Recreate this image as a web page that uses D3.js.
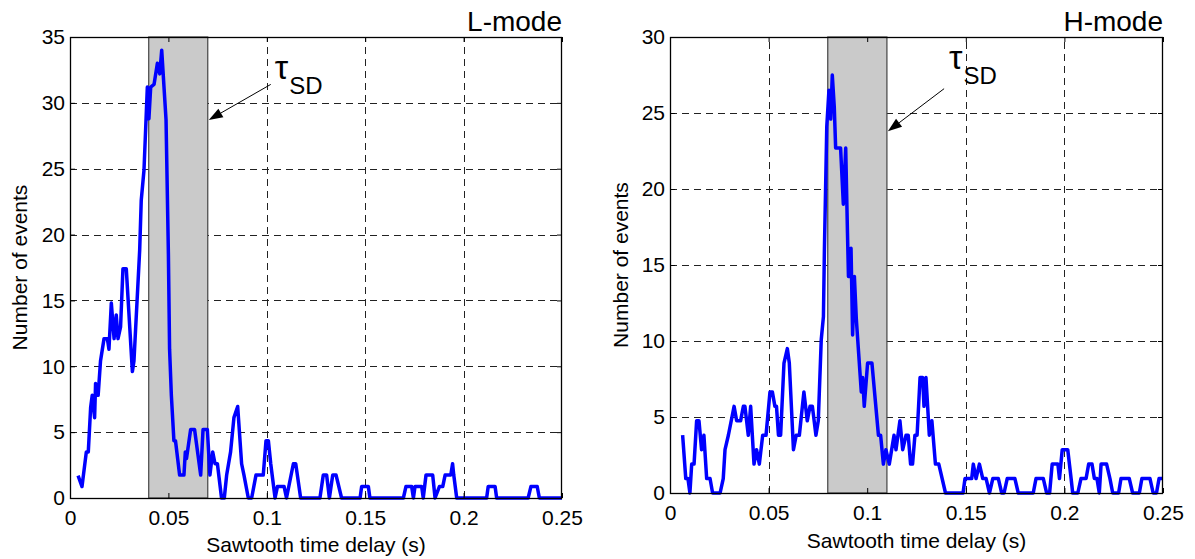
<!DOCTYPE html>
<html><head><meta charset="utf-8">
<script src="https://cdn.jsdelivr.net/npm/d3@7"></script>
<style>
body{margin:0;background:#fff;}
text{font-family:"Liberation Sans",Arial,sans-serif;fill:#000;}
</style></head>
<body>
<svg id="c" width="1195" height="559"></svg>
<script>
// ---- data ----
const xTicks = [0, 0.05, 0.1, 0.15, 0.2, 0.25];
const xTickLabels = ["0", "0.05", "0.1", "0.15", "0.2", "0.25"];
const lYTicks = [0, 5, 10, 15, 20, 25, 30, 35];
const hYTicks = [0, 5, 10, 15, 20, 25, 30];
const panelTitles = ["L-mode", "H-mode"];
const xTitle = "Sawtooth time delay (s)";
const yTitle = "Number of events";
const lBand = [0.04, 0.07];
const hBand = [0.08, 0.11];

const lTime = [0.0041,0.0061,0.0083,0.0093,0.0105,0.0113,0.0125,0.0130,0.0135,0.0143,0.0155,0.0173,0.0190,0.0198,0.0210,0.0224,0.0235,0.0244,0.0257,0.0269,0.0286,0.0317,0.0325,0.0354,0.0362,0.0376,0.0393,0.0401,0.0410,0.0427,0.0444,0.0456,0.0466,0.0488,0.0500,0.0506,0.0515,0.0528,0.0536,0.0557,0.0579,0.0586,0.0592,0.0613,0.0633,0.0664,0.0676,0.0698,0.0711,0.0725,0.0737,0.0749,0.0770,0.0784,0.0796,0.0816,0.0833,0.0852,0.0872,0.0884,0.0906,0.0923,0.0945,0.0982,0.0996,0.1008,0.1020,0.1042,0.1054,0.1088,0.1100,0.1135,0.1147,0.1172,0.1270,0.1287,0.1304,0.1318,0.1335,0.1352,0.1380,0.1474,0.1482,0.1516,0.1524,0.1694,0.1707,0.1736,0.1745,0.1753,0.1787,0.1795,0.1809,0.1843,0.1855,0.1877,0.1894,0.1906,0.1935,0.1944,0.1950,0.1965,0.2117,0.2125,0.2160,0.2168,0.2328,0.2342,0.2374,0.2385,0.2500];
const lCount = [1.7,0.87,3.5,3.5,6.9,7.8,6.1,8.7,7.8,7.8,10.4,12.1,12.1,11.3,14.8,12.1,13.9,12.1,13.0,17.4,17.4,9.6,10.4,18.8,22.6,24.9,31.2,28.8,31.2,31.4,33.0,32.2,34.0,28.7,18.5,11.3,7.8,4.35,4.35,1.74,1.74,3.5,3.0,5.2,5.2,1.74,5.2,5.2,1.74,3.5,2.6,2.6,0,0,1.74,3.5,6.1,6.95,2.6,1.74,0,0,1.74,1.74,4.35,4.35,2.6,0,0.87,0.87,0,2.6,2.6,0,0,1.74,1.74,0,1.74,1.74,0,0,0.87,0.87,0,0,0.87,0.87,0,0.87,0.87,0,1.74,1.74,0,0.87,0.87,1.74,1.74,2.6,1.74,0,0,0.87,0.87,0,0,0.87,0.87,0,0];

const hTime = [0.0064,0.0080,0.0091,0.0101,0.0110,0.0122,0.0135,0.0147,0.0160,0.0172,0.0186,0.0203,0.0216,0.0254,0.0270,0.0279,0.0296,0.0325,0.0338,0.0358,0.0372,0.0380,0.0397,0.0409,0.0426,0.0439,0.0453,0.0470,0.0487,0.0507,0.0519,0.0532,0.0540,0.0550,0.0561,0.0578,0.0595,0.0605,0.0626,0.0640,0.0656,0.0679,0.0696,0.0710,0.0722,0.0740,0.0752,0.0767,0.0778,0.0783,0.0795,0.0806,0.0815,0.0823,0.0833,0.0840,0.0865,0.0879,0.0891,0.0900,0.0905,0.0912,0.0918,0.0926,0.0935,0.0945,0.0970,0.0977,0.0985,0.1002,0.1024,0.1057,0.1068,0.1082,0.1095,0.1112,0.1136,0.1146,0.1166,0.1180,0.1197,0.1208,0.1220,0.1230,0.1242,0.1253,0.1268,0.1281,0.1288,0.1298,0.1315,0.1328,0.1346,0.1363,0.1397,0.1486,0.1496,0.1530,0.1538,0.1552,0.1569,0.1586,0.1603,0.1620,0.1637,0.1665,0.1682,0.1694,0.1710,0.1749,0.1766,0.1842,0.1856,0.1893,0.1910,0.1925,0.1938,0.1967,0.1975,0.1989,0.2017,0.2034,0.2042,0.2068,0.2084,0.2110,0.2123,0.2140,0.2152,0.2165,0.2177,0.2186,0.2214,0.2231,0.2245,0.2275,0.2287,0.2329,0.2346,0.2380,0.2393,0.2434,0.2450,0.2467,0.2480,0.2500];
const hCount = [3.8,0.95,0.95,0,1.9,1.9,4.75,4.75,2.85,3.8,0.95,0.95,0,0,0.95,2.85,3.8,5.7,4.75,4.75,5.7,5.7,3.8,5.7,1.9,2.85,1.9,3.8,3.8,6.65,6.65,5.7,5.7,3.8,3.8,8.55,9.5,8.55,2.85,3.8,3.8,6.65,4.75,5.7,5.7,3.8,4.75,10.1,11.6,16,24.1,26.5,24.6,27.5,25.4,22.7,22.7,19.0,22.7,17.1,14.25,14.25,16.1,10.4,14.25,11.4,6.65,7.6,5.7,8.55,8.55,3.8,3.8,1.9,2.85,1.9,3.8,2.85,4.75,2.85,3.8,3.8,1.9,1.9,3.8,3.8,7.6,7.6,5.7,7.6,3.8,4.75,1.9,1.9,0,0,0.95,0.95,1.9,0.95,1.9,0.95,0.95,0,0.95,0.95,0,0,0.95,0.95,0,0,0.95,0.95,0,0,1.9,1.9,0.95,2.85,2.85,0.95,0,0,0.95,0.95,1.9,1.9,0.95,0.95,0,1.9,1.9,0.95,0,0,0.95,0.95,0,0,0.95,0.95,0,0,0.95,0.95];

// annotation anchor points in data units: [tail x, tail y, head x, head y]
const lArrow = [0.102, 31.4, 0.0705, 28.7];
const hArrow = [0.139, 26.6, 0.1105, 23.8];

const svg = d3.select("#c");

function panel(cfg){
  const {left, top, right, bottom, yMax, yTicks, time, count, band, title, arrow, labelDx, labelDy, xTitleY, yTitleX} = cfg;
  const x = d3.scaleLinear().domain([0, 0.25]).range([left, right]);
  const y = d3.scaleLinear().domain([0, yMax]).range([bottom, top]);
  const g = svg.append("g");
  const w = right - left, h = bottom - top;

  // grid
  const grid = g.append("g").attr("stroke", "#222").attr("stroke-width", 1).attr("stroke-dasharray", "7,5").attr("shape-rendering","crispEdges");
  grid.selectAll("line.v").data(xTicks.slice(1, -1)).join("line")
    .attr("x1", d => Math.round(x(d)) + 0.5).attr("x2", d => Math.round(x(d)) + 0.5)
    .attr("y1", bottom).attr("y2", top);
  grid.selectAll("line.h").data(yTicks.slice(1, -1)).join("line")
    .attr("y1", d => Math.round(y(d)) + 0.5).attr("y2", d => Math.round(y(d)) + 0.5)
    .attr("x1", left).attr("x2", right);

  // shaded band
  g.append("rect").attr("x", x(band[0])).attr("y", top).attr("width", x(band[1]) - x(band[0])).attr("height", h)
    .attr("fill", "#cacaca").attr("stroke", "#444").attr("stroke-width", 1.2);

  // curve
  const line = d3.line().x((d, i) => x(time[i])).y(d => y(d));
  g.append("path").datum(count).attr("d", line).attr("fill", "none")
    .attr("stroke", "#0000ff").attr("stroke-width", 3.5).attr("stroke-linejoin", "round");

  // axes (MATLAB-style box with inward ticks)
  const fmt = d => xTickLabels[xTicks.indexOf(d)];
  const ax = d3.axisBottom(x).tickValues(xTicks).tickFormat(fmt).tickSize(-5).tickPadding(12);
  const ay = d3.axisLeft(y).tickValues(yTicks).tickFormat(d3.format("d")).tickSize(-5).tickPadding(5);
  const at = d3.axisTop(x).tickValues(xTicks).tickFormat("").tickSize(-5);
  const ar = d3.axisRight(y).tickValues(yTicks).tickFormat("").tickSize(-5);
  const style = s => { s.select(".domain").remove(); s.selectAll("line").attr("stroke","#000"); s.selectAll("text").style("font-size","21px").attr("font-family","Liberation Sans, Arial, sans-serif"); };
  g.append("g").attr("transform", `translate(0,${bottom})`).call(ax).call(style);
  g.append("g").attr("transform", `translate(${left},0)`).call(ay).call(style);
  g.append("g").attr("transform", `translate(0,${top})`).call(at).call(style);
  g.append("g").attr("transform", `translate(${right},0)`).call(ar).call(style);
  g.append("rect").attr("x", left + 0.5).attr("y", top + 0.5).attr("width", w - 1).attr("height", h)
    .attr("fill", "none").attr("stroke", "#000").attr("stroke-width", 1.3);

  // titles
  g.append("text").attr("x", right).attr("y", top - 6).attr("text-anchor", "end").style("font-size", "28px").text(title);
  g.append("text").attr("x", (left + right) / 2).attr("y", xTitleY).attr("text-anchor", "middle").style("font-size", "21px").text(xTitle);
  g.append("text").attr("transform", `translate(${yTitleX},${(top + bottom) / 2}) rotate(-90)`).attr("text-anchor", "middle").style("font-size", "21px").text(yTitle);

  // arrow annotation
  const tx = x(arrow[0]), ty = y(arrow[1]), hx = x(arrow[2]), hy = y(arrow[3]);
  const ang = Math.atan2(hy - ty, hx - tx);
  const L = 14, W = 5;
  const bx = hx - L * Math.cos(ang), by = hy - L * Math.sin(ang);
  g.append("line").attr("x1", tx).attr("y1", ty).attr("x2", bx).attr("y2", by).attr("stroke", "#000").attr("stroke-width", 1);
  g.append("path").attr("d", `M${hx},${hy}L${bx + W * Math.sin(ang)},${by - W * Math.cos(ang)}L${bx - W * Math.sin(ang)},${by + W * Math.cos(ang)}Z`).attr("fill", "#000");
  const t = g.append("text").attr("x", tx + labelDx).attr("y", ty + labelDy);
  t.append("tspan").style("font-size", "34px").text("τ");
  t.append("tspan").attr("dy", 15).attr("dx", 1).style("font-size", "24px").text("SD");
}

panel({left:70, top:37, right:562, bottom:498, yMax:35, yTicks:lYTicks, time:lTime, count:lCount, band:lBand,
       title:panelTitles[0], arrow:lArrow, labelDx:4, labelDy:-5, xTitleY:552, yTitleX:27});
panel({left:670, top:37, right:1163, bottom:493, yMax:30, yTicks:hYTicks, time:hTime, count:hCount, band:hBand,
       title:panelTitles[1], arrow:hArrow, labelDx:5, labelDy:-20, xTitleY:548, yTitleX:628});
</script>
</body></html>
